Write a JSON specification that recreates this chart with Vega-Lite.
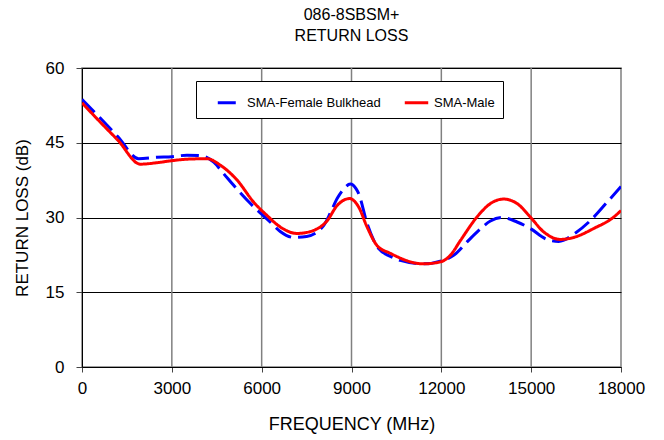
{
  "$schema": "https://vega.github.io/schema/vega-lite/v6.json",
  "width": 539,
  "height": 299,
  "autosize": {"type": "none"},
  "padding": {"left": 82, "top": 68, "right": 43, "bottom": 73},
  "background": "white",
  "config": {
    "font": "Liberation Sans",
    "view": {"stroke": "#808080", "strokeWidth": 1.5},
    "axis": {"labelFont": "Liberation Sans", "titleFont": "Liberation Sans", "labelColor": "black", "titleColor": "black", "titleFontWeight": "normal"}
  },
  "title": {
    "text": ["086-8SBSM+", "RETURN LOSS"],
    "fontSize": 16,
    "fontWeight": "normal",
    "font": "Liberation Sans",
    "color": "black",
    "lineHeight": 21,
    "offset": 15,
    "anchor": "middle"
  },
  "data": {
    "values": [
      {"f": 0, "rl": 53.7, "s": "SMA-Female Bulkhead"},
      {"f": 600, "rl": 50.0, "s": "SMA-Female Bulkhead"},
      {"f": 1200, "rl": 46.2, "s": "SMA-Female Bulkhead"},
      {"f": 1890, "rl": 41.8, "s": "SMA-Female Bulkhead"},
      {"f": 2500, "rl": 42.1, "s": "SMA-Female Bulkhead"},
      {"f": 3000, "rl": 42.2, "s": "SMA-Female Bulkhead"},
      {"f": 3500, "rl": 42.5, "s": "SMA-Female Bulkhead"},
      {"f": 3950, "rl": 42.4, "s": "SMA-Female Bulkhead"},
      {"f": 4400, "rl": 41.1, "s": "SMA-Female Bulkhead"},
      {"f": 4730, "rl": 38.8, "s": "SMA-Female Bulkhead"},
      {"f": 5100, "rl": 36.2, "s": "SMA-Female Bulkhead"},
      {"f": 5510, "rl": 33.5, "s": "SMA-Female Bulkhead"},
      {"f": 6010, "rl": 30.6, "s": "SMA-Female Bulkhead"},
      {"f": 6300, "rl": 29.0, "s": "SMA-Female Bulkhead"},
      {"f": 6620, "rl": 27.2, "s": "SMA-Female Bulkhead"},
      {"f": 7070, "rl": 26.0, "s": "SMA-Female Bulkhead"},
      {"f": 7500, "rl": 26.2, "s": "SMA-Female Bulkhead"},
      {"f": 8070, "rl": 28.4, "s": "SMA-Female Bulkhead"},
      {"f": 8300, "rl": 31.0, "s": "SMA-Female Bulkhead"},
      {"f": 8520, "rl": 33.8, "s": "SMA-Female Bulkhead"},
      {"f": 8750, "rl": 35.8, "s": "SMA-Female Bulkhead"},
      {"f": 8960, "rl": 36.7, "s": "SMA-Female Bulkhead"},
      {"f": 9150, "rl": 35.8, "s": "SMA-Female Bulkhead"},
      {"f": 9240, "rl": 34.8, "s": "SMA-Female Bulkhead"},
      {"f": 9520, "rl": 28.8, "s": "SMA-Female Bulkhead"},
      {"f": 9900, "rl": 23.8, "s": "SMA-Female Bulkhead"},
      {"f": 10300, "rl": 22.2, "s": "SMA-Female Bulkhead"},
      {"f": 10630, "rl": 21.4, "s": "SMA-Female Bulkhead"},
      {"f": 11400, "rl": 20.7, "s": "SMA-Female Bulkhead"},
      {"f": 12000, "rl": 21.3, "s": "SMA-Female Bulkhead"},
      {"f": 12410, "rl": 22.4, "s": "SMA-Female Bulkhead"},
      {"f": 12860, "rl": 25.1, "s": "SMA-Female Bulkhead"},
      {"f": 13250, "rl": 27.4, "s": "SMA-Female Bulkhead"},
      {"f": 13640, "rl": 29.3, "s": "SMA-Female Bulkhead"},
      {"f": 14030, "rl": 30.0, "s": "SMA-Female Bulkhead"},
      {"f": 14530, "rl": 29.1, "s": "SMA-Female Bulkhead"},
      {"f": 14970, "rl": 27.8, "s": "SMA-Female Bulkhead"},
      {"f": 15530, "rl": 25.6, "s": "SMA-Female Bulkhead"},
      {"f": 15920, "rl": 25.2, "s": "SMA-Female Bulkhead"},
      {"f": 16480, "rl": 26.9, "s": "SMA-Female Bulkhead"},
      {"f": 16980, "rl": 29.4, "s": "SMA-Female Bulkhead"},
      {"f": 17540, "rl": 33.1, "s": "SMA-Female Bulkhead"},
      {"f": 18000, "rl": 36.2, "s": "SMA-Female Bulkhead"},
      {"f": 0, "rl": 53.0, "s": "SMA-Male"},
      {"f": 600, "rl": 49.2, "s": "SMA-Male"},
      {"f": 1200, "rl": 45.5, "s": "SMA-Male"},
      {"f": 1950, "rl": 40.7, "s": "SMA-Male"},
      {"f": 2500, "rl": 41.0, "s": "SMA-Male"},
      {"f": 3000, "rl": 41.4, "s": "SMA-Male"},
      {"f": 3500, "rl": 41.7, "s": "SMA-Male"},
      {"f": 4175, "rl": 41.8, "s": "SMA-Male"},
      {"f": 4620, "rl": 40.5, "s": "SMA-Male"},
      {"f": 5180, "rl": 37.5, "s": "SMA-Male"},
      {"f": 5730, "rl": 33.1, "s": "SMA-Male"},
      {"f": 6180, "rl": 30.4, "s": "SMA-Male"},
      {"f": 6620, "rl": 28.1, "s": "SMA-Male"},
      {"f": 7180, "rl": 26.8, "s": "SMA-Male"},
      {"f": 7500, "rl": 27.0, "s": "SMA-Male"},
      {"f": 7735, "rl": 27.4, "s": "SMA-Male"},
      {"f": 8180, "rl": 29.3, "s": "SMA-Male"},
      {"f": 8520, "rl": 32.4, "s": "SMA-Male"},
      {"f": 8940, "rl": 33.8, "s": "SMA-Male"},
      {"f": 9240, "rl": 32.1, "s": "SMA-Male"},
      {"f": 9520, "rl": 28.1, "s": "SMA-Male"},
      {"f": 9850, "rl": 24.4, "s": "SMA-Male"},
      {"f": 10300, "rl": 22.8, "s": "SMA-Male"},
      {"f": 11400, "rl": 20.7, "s": "SMA-Male"},
      {"f": 11970, "rl": 21.1, "s": "SMA-Male"},
      {"f": 12300, "rl": 22.4, "s": "SMA-Male"},
      {"f": 12640, "rl": 25.4, "s": "SMA-Male"},
      {"f": 13190, "rl": 30.1, "s": "SMA-Male"},
      {"f": 13640, "rl": 32.8, "s": "SMA-Male"},
      {"f": 14080, "rl": 33.7, "s": "SMA-Male"},
      {"f": 14530, "rl": 32.8, "s": "SMA-Male"},
      {"f": 14970, "rl": 30.1, "s": "SMA-Male"},
      {"f": 15420, "rl": 27.1, "s": "SMA-Male"},
      {"f": 15975, "rl": 25.6, "s": "SMA-Male"},
      {"f": 16420, "rl": 26.0, "s": "SMA-Male"},
      {"f": 17090, "rl": 27.8, "s": "SMA-Male"},
      {"f": 17760, "rl": 30.1, "s": "SMA-Male"},
      {"f": 18000, "rl": 31.4, "s": "SMA-Male"}
    ]
  },
  "layer": [
    {
      "mark": {"type": "rule", "color": "#808080", "strokeWidth": 1.5},
      "data": {"values": [{"g": 3000}, {"g": 6000}, {"g": 9000}, {"g": 12000}, {"g": 15000}]},
      "encoding": {"x": {"field": "g", "type": "quantitative"}}
    },
    {
      "mark": {"type": "line", "interpolate": "monotone", "strokeWidth": 3, "clip": true},
      "encoding": {
        "x": {
          "field": "f", "type": "quantitative",
          "scale": {"domain": [0, 18000], "nice": false},
          "axis": {
            "values": [0, 3000, 6000, 9000, 12000, 15000, 18000],
            "format": "d",
            "title": "FREQUENCY (MHz)",
            "grid": false,
            "labelFlush": false,
            "labelOverlap": false,
            "labelFontSize": 17,
            "titleFontSize": 18,
            "labelPadding": 8,
            "titlePadding": 19,
            "tickColor": "#444",
            "tickSize": 5,
            "domainColor": "black"
          }
        },
        "y": {
          "field": "rl", "type": "quantitative",
          "scale": {"domain": [0, 60], "nice": false},
          "axis": {
            "values": [0, 15, 30, 45, 60],
            "title": "RETURN LOSS (dB)",
            "grid": true,
            "gridColor": "black",
            "gridOpacity": 1,
            "gridWidth": 1,
            "labelFlush": false,
            "labelFontSize": 17,
            "titleFontSize": 17,
            "labelPadding": 12,
            "titlePadding": 14,
            "tickColor": "#444",
            "tickSize": 6,
            "domainColor": "black"
          }
        },
        "color": {
          "field": "s", "type": "nominal",
          "scale": {"domain": ["SMA-Female Bulkhead", "SMA-Male"], "range": ["#0000ff", "#ff0000"]},
          "legend": {
            "title": null,
            "orient": "none",
            "legendX": 114,
            "legendY": 13,
            "direction": "horizontal",
            "fillColor": "white",
            "strokeColor": "black",
            "padding": 8,
            "symbolType": "stroke",
            "symbolSize": 550,
            "symbolStrokeWidth": 3,
            "symbolOffset": 12,
            "labelFontSize": 13,
            "labelFont": "Liberation Sans",
            "labelColor": "black",
            "labelOffset": 4,
            "columnPadding": 10
          }
        },
        "strokeDash": {
          "field": "s", "type": "nominal",
          "scale": {"domain": ["SMA-Female Bulkhead", "SMA-Male"], "range": [[18, 7], [1, 0]]},
          "legend": null
        }
      }
    }
  ]
}
